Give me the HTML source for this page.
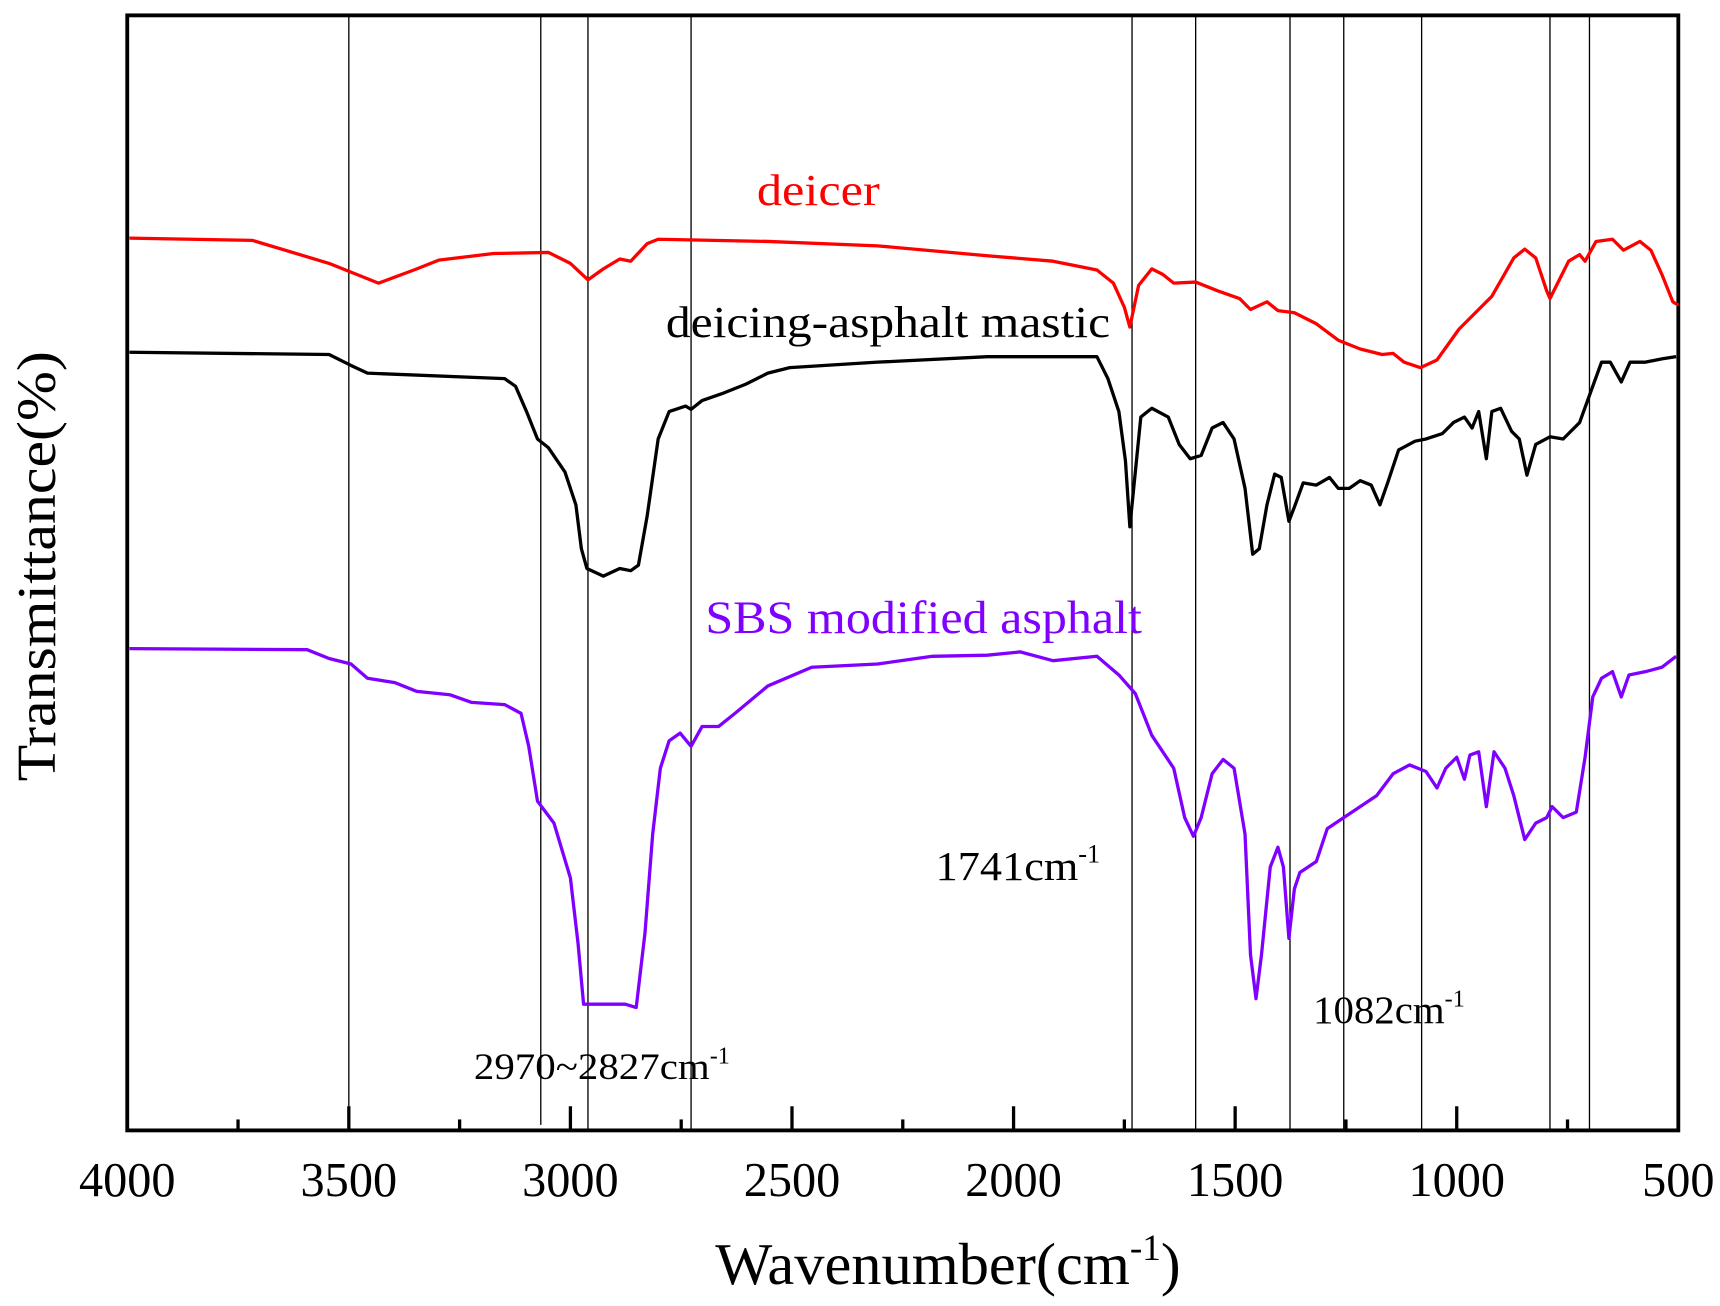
<!DOCTYPE html>
<html><head><meta charset="utf-8"><style>html,body{margin:0;padding:0;background:#fff}svg{display:block}</style></head>
<body>
<svg width="1720" height="1306" viewBox="0 0 1568 1190" preserveAspectRatio="none" xmlns="http://www.w3.org/2000/svg" font-family="Liberation Serif, serif">
<rect width="1568" height="1190" fill="#fff"/>
<g stroke="#000" stroke-width="1.2">
<line x1="318" y1="14" x2="318" y2="1030"/><line x1="493" y1="14" x2="493" y2="1025"/><line x1="536" y1="14" x2="536" y2="1030"/><line x1="630" y1="14" x2="630" y2="1030"/><line x1="1032" y1="14" x2="1032" y2="1030"/><line x1="1090" y1="14" x2="1090" y2="1030"/><line x1="1176" y1="14" x2="1176" y2="1030"/><line x1="1225" y1="14" x2="1225" y2="1030"/><line x1="1296" y1="14" x2="1296" y2="1030"/><line x1="1413" y1="14" x2="1413" y2="1030"/><line x1="1449" y1="14" x2="1449" y2="1030"/>
</g>
<g stroke="#000" stroke-width="3">
<line x1="318" y1="1030" x2="318" y2="1008"/><line x1="520" y1="1030" x2="520" y2="1008"/><line x1="722" y1="1030" x2="722" y2="1008"/><line x1="924" y1="1030" x2="924" y2="1008"/><line x1="1126" y1="1030" x2="1126" y2="1008"/><line x1="1328" y1="1030" x2="1328" y2="1008"/>
<line x1="217" y1="1030" x2="217" y2="1020"/><line x1="419" y1="1030" x2="419" y2="1020"/><line x1="621" y1="1030" x2="621" y2="1020"/><line x1="823" y1="1030" x2="823" y2="1020"/><line x1="1025" y1="1030" x2="1025" y2="1020"/><line x1="1227" y1="1030" x2="1227" y2="1020"/><line x1="1429" y1="1030" x2="1429" y2="1020"/>
</g>
<rect x="116" y="14" width="1414" height="1016" fill="none" stroke="#000" stroke-width="3.5"/>
<polyline fill="none" stroke="#ff0000" stroke-width="3" stroke-linejoin="round" points="118,217 230,219 300,240 345,258 380,245 400,237 450,231 500,230 520,240 536,255 550,245 565,236 575,238 590,222 600,218 700,220 800,224 900,233 960,238 1000,246 1015,258 1025,280 1030,298 1038,260 1050,245 1060,250 1070,258 1090,257 1110,265 1130,272 1140,282 1155,275 1165,283 1180,285 1200,295 1220,310 1240,318 1260,323 1270,322 1280,330 1295,335 1310,328 1330,300 1360,270 1380,235 1390,227 1400,235 1410,265 1413,272 1420,258 1430,238 1440,232 1445,238 1455,220 1470,218 1480,228 1495,220 1505,228 1515,250 1525,275 1530,278"/>
<polyline fill="none" stroke="#000" stroke-width="3" stroke-linejoin="round" points="118,321 300,323 320,333 335,340 460,345 470,352 480,375 490,400 500,408 515,430 525,460 530,500 535,518 550,525 565,518 575,520 582,515 590,470 600,400 610,375 625,370 630,373 640,365 660,358 680,350 700,340 720,335 800,330 900,325 1000,325 1010,345 1020,375 1026,420 1030,480 1034,440 1040,380 1050,372 1065,380 1075,405 1085,418 1095,415 1105,390 1115,385 1125,400 1135,445 1142,505 1148,500 1155,460 1162,432 1168,435 1175,475 1180,462 1188,440 1200,442 1212,435 1220,445 1230,445 1240,438 1250,442 1258,460 1265,440 1275,410 1290,402 1300,400 1315,395 1325,385 1335,380 1342,390 1348,375 1355,418 1360,375 1368,372 1378,393 1385,400 1392,433 1400,405 1413,398 1425,400 1440,385 1452,352 1460,330 1468,330 1478,348 1486,330 1500,330 1515,327 1528,325"/>
<polyline fill="none" stroke="#8000ff" stroke-width="3" stroke-linejoin="round" points="118,591 280,592 300,600 320,605 335,618 360,622 380,630 410,633 430,640 460,642 475,650 482,680 490,730 505,750 520,800 527,860 532,915 570,915 580,918 588,850 595,760 602,700 610,675 620,668 630,680 640,662 655,662 670,650 700,625 740,608 800,605 850,598 900,597 930,594 960,602 1000,598 1020,615 1035,632 1050,670 1070,700 1080,745 1088,762 1095,745 1105,705 1115,692 1125,700 1135,760 1140,870 1145,910 1150,870 1158,790 1165,772 1170,790 1175,855 1180,810 1185,795 1200,785 1210,755 1225,745 1240,735 1255,725 1270,705 1285,697 1300,703 1310,718 1318,700 1328,690 1335,710 1340,688 1348,685 1355,735 1362,685 1372,700 1380,725 1390,765 1400,750 1410,745 1415,735 1425,745 1437,740 1445,690 1452,635 1460,618 1470,612 1478,635 1485,615 1500,612 1515,608 1528,598"/>
<text x="690" y="187" font-size="40" fill="#ff0000" textLength="112" lengthAdjust="spacingAndGlyphs">deicer</text>
<text x="607" y="307" font-size="40" fill="#000" textLength="405" lengthAdjust="spacingAndGlyphs">deicing-asphalt mastic</text>
<text x="643" y="577" font-size="42" fill="#8000ff" textLength="398" lengthAdjust="spacingAndGlyphs">SBS modified asphalt</text>
<text x="853" y="802" font-size="38" fill="#000"><tspan textLength="130" lengthAdjust="spacingAndGlyphs">1741cm</tspan><tspan font-size="24" dy="-16">-1</tspan></text>
<text x="1197" y="932" font-size="36" fill="#000"><tspan textLength="120" lengthAdjust="spacingAndGlyphs">1082cm</tspan><tspan font-size="22" dy="-15">-1</tspan></text>
<text x="432" y="983" font-size="34" fill="#000"><tspan textLength="215" lengthAdjust="spacingAndGlyphs">2970~2827cm</tspan><tspan font-size="22" dy="-14">-1</tspan></text>
<g font-size="44" fill="#000">
<text x="72" y="1090" textLength="88" lengthAdjust="spacingAndGlyphs">4000</text><text x="274" y="1090" textLength="88" lengthAdjust="spacingAndGlyphs">3500</text><text x="476" y="1090" textLength="88" lengthAdjust="spacingAndGlyphs">3000</text><text x="678" y="1090" textLength="88" lengthAdjust="spacingAndGlyphs">2500</text><text x="880" y="1090" textLength="88" lengthAdjust="spacingAndGlyphs">2000</text><text x="1082" y="1090" textLength="88" lengthAdjust="spacingAndGlyphs">1500</text><text x="1284" y="1090" textLength="88" lengthAdjust="spacingAndGlyphs">1000</text><text x="1497" y="1090" textLength="66" lengthAdjust="spacingAndGlyphs">500</text>
</g>
<text x="652" y="1170" font-size="54" fill="#000"><tspan textLength="378" lengthAdjust="spacingAndGlyphs">Wavenumber(cm</tspan><tspan font-size="34" dy="-22">-1</tspan><tspan dy="22">)</tspan></text>
<text transform="translate(50,516) rotate(-90)" font-size="50" text-anchor="middle" fill="#000" textLength="392" lengthAdjust="spacingAndGlyphs">Transmittance(%)</text>
</svg>
</body></html>
